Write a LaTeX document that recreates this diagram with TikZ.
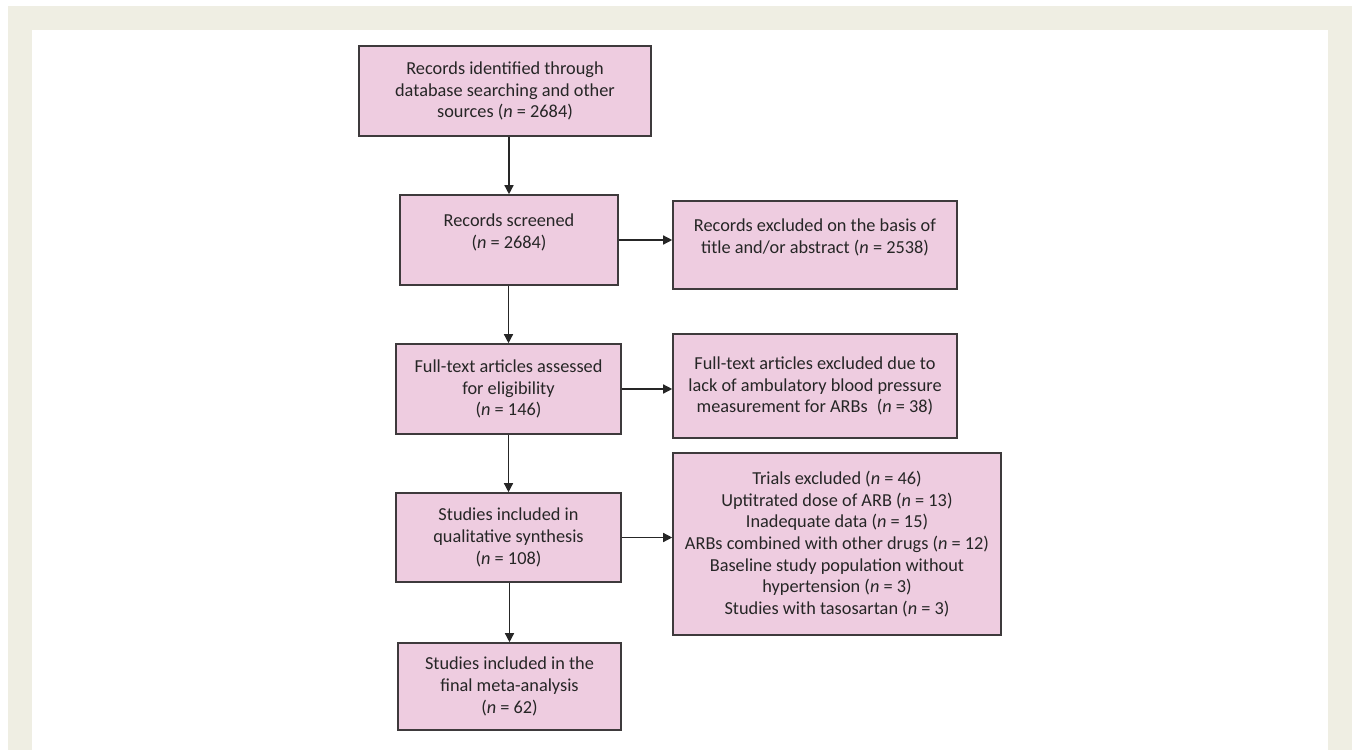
\documentclass[tikz,border=0pt]{standalone}
\usepackage{fontspec}
\setmainfont{Carlito}
\usetikzlibrary{arrows.meta}
\definecolor{framebg}{RGB}{239,238,227}
\definecolor{boxfill}{RGB}{238,204,224}
\definecolor{boxline}{RGB}{62,58,60}
\tikzset{
  pbox/.style={draw=boxline, line width=1.6pt, fill=boxfill, align=center, inner sep=0pt,
    font=\fontsize{18.3}{21.7}\selectfont, text=black!85},
  arr/.style={draw=black!85, line width=1.4pt, -{Triangle[length=9pt,width=9pt]}},
}
\begin{document}
\begin{tikzpicture}[x=1pt,y=-1pt]
\useasboundingbox (0,0) rectangle (1355,750);
\fill[white] (0,0) rectangle (1355,750);
\fill[framebg] (8,6) rectangle (1352,750);
\fill[white] (32,30) rectangle (1328,750);

\node[pbox, minimum width=292pt, minimum height=90pt] (b1) at (505,91)
  {Records identified through\\database searching and other\\sources (\textit{n} = 2684)};
\node[pbox, minimum width=218pt, minimum height=90pt] (b2) at (509,240)
  {Records screened\\(\textit{n} = 2684)\\[-3.7pt]\mbox{}};
\node[pbox, minimum width=284pt, minimum height=88pt] (r2) at (815,245)
  {Records excluded on the basis of\\title and/or abstract (\textit{n} = 2538)\\[-3.7pt]\mbox{}};
\node[pbox, minimum width=225pt, minimum height=90pt] (b3) at (508.5,389)
  {Full-text articles assessed\\for eligibility\\(\textit{n} = 146)};
\node[pbox, minimum width=284pt, minimum height=104pt] (r3) at (815,386)
  {Full-text articles excluded due to\\lack of ambulatory blood pressure\\measurement for ARBs\enspace(\textit{n} = 38)};
\node[pbox, minimum width=225pt, minimum height=89pt] (b4) at (508.5,537.5)
  {Studies included in\\qualitative synthesis\\(\textit{n} = 108)};
\node[pbox, minimum width=328pt, minimum height=182pt] (r4) at (837,544)
  {Trials excluded (\textit{n} = 46)\\Uptitrated dose of ARB (\textit{n} = 13)\\Inadequate data (\textit{n} = 15)\\ARBs combined with other drugs (\textit{n} = 12)\\Baseline study population without\\hypertension (\textit{n} = 3)\\Studies with tasosartan (\textit{n} = 3)};
\node[pbox, minimum width=223pt, minimum height=87pt] (b5) at (509.5,686.5)
  {Studies included in the\\final meta-analysis\\(\textit{n} = 62)};

\draw[arr] (b1.south -| b2.north) -- (b2.north);
\draw[arr] (b2.south -| b3.north) -- (b3.north);
\draw[arr] (b3.south -| b4.north) -- (b4.north);
\draw[arr] (b4.south -| b5.north) -- (b5.north);
\draw[arr] (b2.east) -- (b2.east -| r2.west);
\draw[arr] (b3.east) -- (b3.east -| r3.west);
\draw[arr] (b4.east) -- (b4.east -| r4.west);
\end{tikzpicture}
\end{document}
